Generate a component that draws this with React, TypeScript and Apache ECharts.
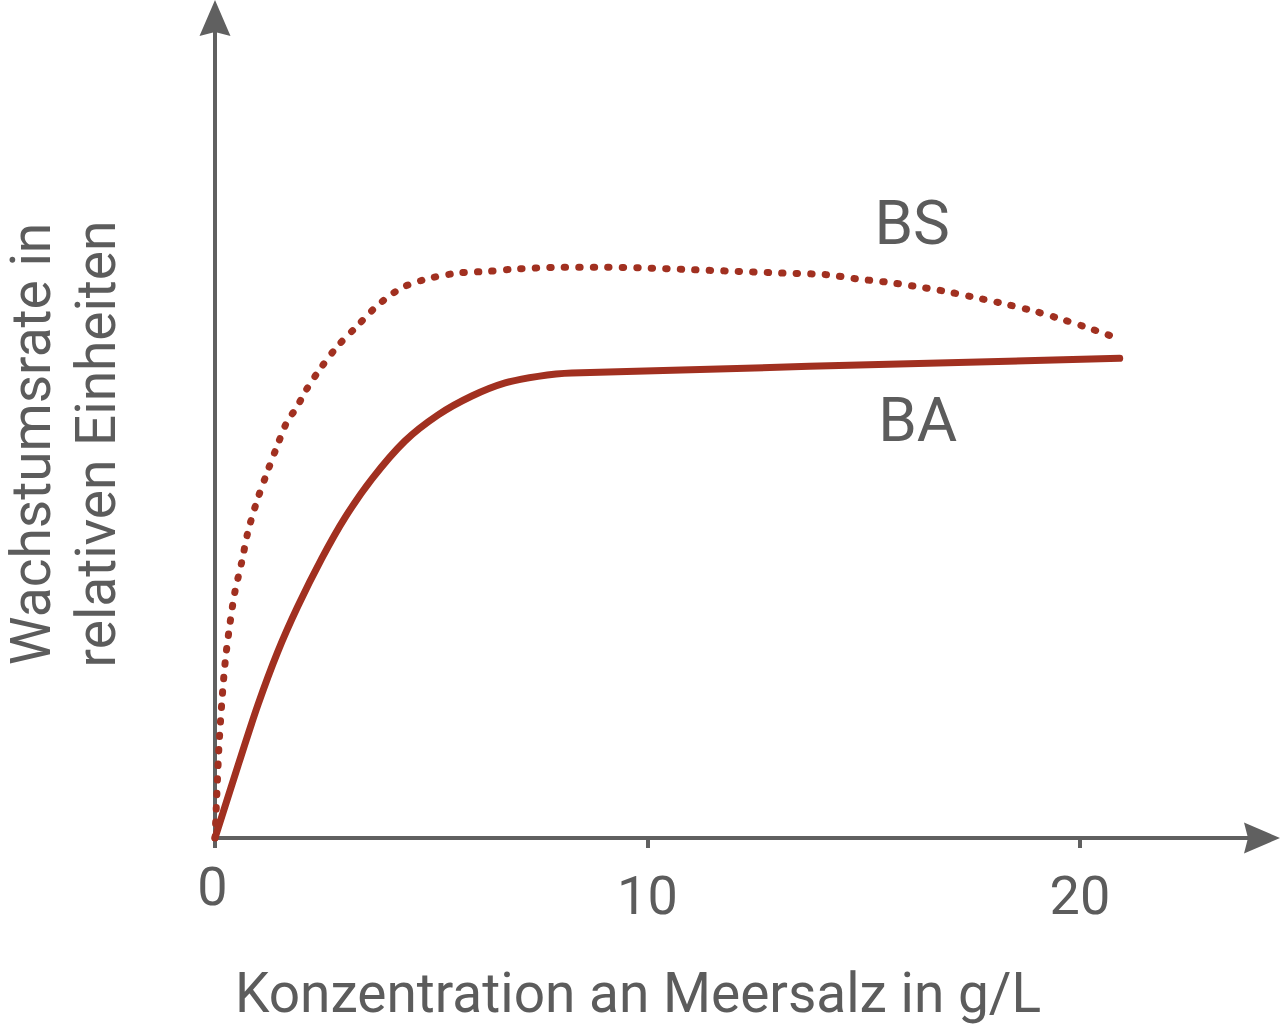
import React, { useEffect, useRef } from "react";
import * as echarts from "echarts";

// ---- data (x: g/L sea salt, y: relative growth units) ----
const baX = [0, 0.53, 0.99, 1.45, 1.91, 2.47, 3.01, 3.63, 4.39, 5.16, 5.94, 6.71, 7.47, 8.25, 20.92];
const baY = [0, 8.8, 16.2, 22.7, 28.2, 34.1, 39.1, 43.8, 48.4, 51.6, 53.9, 55.5, 56.3, 56.7, 58.5];

const bsX = [0, 0.04, 0.09, 0.16, 0.24, 0.35, 0.46, 0.62, 0.76, 0.97, 1.2, 1.43, 1.66, 1.9, 2.08, 2.43, 2.82, 3.28, 3.77, 4.32, 4.92, 5.62, 6.31, 6.98, 8.02, 9.02, 10.06, 11.05, 12.09, 13.09, 14.13, 14.82, 15.51, 16.16, 16.86, 17.5, 18.2, 18.84, 19.49, 20.14, 20.79];
const bsY = [0, 5, 11, 16.7, 21.7, 26.3, 30.0, 33.7, 37.3, 41.1, 44.5, 47.7, 50.7, 52.6, 54.4, 57.2, 59.9, 62.4, 65.0, 67.1, 68.2, 68.9, 69.1, 69.4, 69.6, 69.6, 69.5, 69.3, 69.1, 68.9, 68.7, 68.2, 67.8, 67.3, 66.7, 66.0, 65.2, 64.4, 63.4, 62.3, 61.1];

const xTicks = [0, 10, 20];
const curveNames = ["BS", "BA"];
const curveLabelX = [16.12, 16.25];
const curveLabelY = [75.1, 51.0];
const xTitle = "Konzentration an Meersalz in g/L";
const yTitleLines = ["Wachstumsrate in", "relativen Einheiten"];

const RED = "#a13020";
const GREY = "#5c5c5c";
const AXIS = "#606060";
const FONT = "Roboto";
const ARROW = "path://M15.5,0 L31,36 L15.5,32 L0,36 Z";

export default function App() {
  const ref = useRef<HTMLDivElement>(null);

  useEffect(() => {
    if (!ref.current) return;
    const chart = echarts.init(ref.current, null, { renderer: "svg" });
    const yTitleX = [31, 96];
    const option: any = {
      animation: false,
      backgroundColor: "#ffffff",
      grid: { left: 215, right: 18, top: 18, bottom: 190, containLabel: false, outerBoundsMode: "none" },
      xAxis: {
        type: "value",
        min: 0,
        max: 24.21,
        interval: 10,
        axisLine: {
          show: true,
          symbol: ["none", ARROW],
          symbolSize: [31, 36],
          lineStyle: { color: AXIS, width: 4 },
        },
        axisTick: {
          show: true,
          inside: false,
          length: 10,
          customValues: xTicks,
          lineStyle: { color: AXIS, width: 4 },
        },
        axisLabel: {
          show: true,
          margin: 30,
          customValues: xTicks,
          fontFamily: FONT,
          fontSize: 54,
          color: GREY,
          formatter: (v: number) => (v === 0 ? "{z|0}" : String(v)),
          rich: {
            z: { fontFamily: FONT, fontSize: 54, color: GREY, lineHeight: 36, padding: [0, 5, 0, 0] },
          },
        },
        splitLine: { show: false },
      },
      yAxis: {
        type: "value",
        min: 0,
        max: 100,
        axisLine: {
          show: true,
          symbol: ["none", ARROW],
          symbolSize: [31, 36],
          lineStyle: { color: AXIS, width: 4 },
        },
        axisTick: { show: false },
        axisLabel: { show: false },
        splitLine: { show: false },
      },
      graphic: [
        ...yTitleLines.map((t, i) => ({
          type: "text",
          x: yTitleX[i],
          y: 444,
          rotation: Math.PI / 2,
          style: {
            text: t,
            font: `55px ${FONT}`,
            fill: GREY,
            align: "center",
            verticalAlign: "middle",
          },
        })),
        {
          type: "text",
          x: 638,
          y: 993,
          style: {
            text: xTitle,
            font: `55px ${FONT}`,
            fill: GREY,
            align: "center",
            verticalAlign: "middle",
          },
        },
      ],
      series: [
        {
          type: "line",
          name: "BA",
          data: baX.map((x, i) => [x, baY[i]]),
          showSymbol: false,
          symbol: "none",
          smooth: 0.3,
          lineStyle: { color: RED, width: 7, cap: "round", join: "round" },
          z: 3,
          silent: true,
        },
        {
          type: "line",
          name: "BS",
          data: bsX.map((x, i) => [x, bsY[i]]),
          showSymbol: false,
          symbol: "none",
          smooth: 0.3,
          lineStyle: { color: RED, width: 7, type: [1.4, 13.1], cap: "round", join: "round" },
          z: 3,
          silent: true,
        },
        {
          type: "scatter",
          symbolSize: 0,
          silent: true,
          itemStyle: { opacity: 1, color: "rgba(0,0,0,0)" },
          data: curveNames.map((n, i) => ({ name: n, value: [curveLabelX[i], curveLabelY[i]] })),
          label: {
            show: true,
            position: "inside",
            formatter: (p: any) => p.name,
            fontFamily: FONT,
            fontSize: 62,
            color: GREY,
            opacity: 1,
          },
        },
      ],
    };
    chart.setOption(option);
    return () => chart.dispose();
  }, []);

  return (
    <div
      ref={ref}
      style={{ position: "absolute", left: 0, top: 0, width: 1280, height: 1028, background: "#fff" }}
    />
  );
}
